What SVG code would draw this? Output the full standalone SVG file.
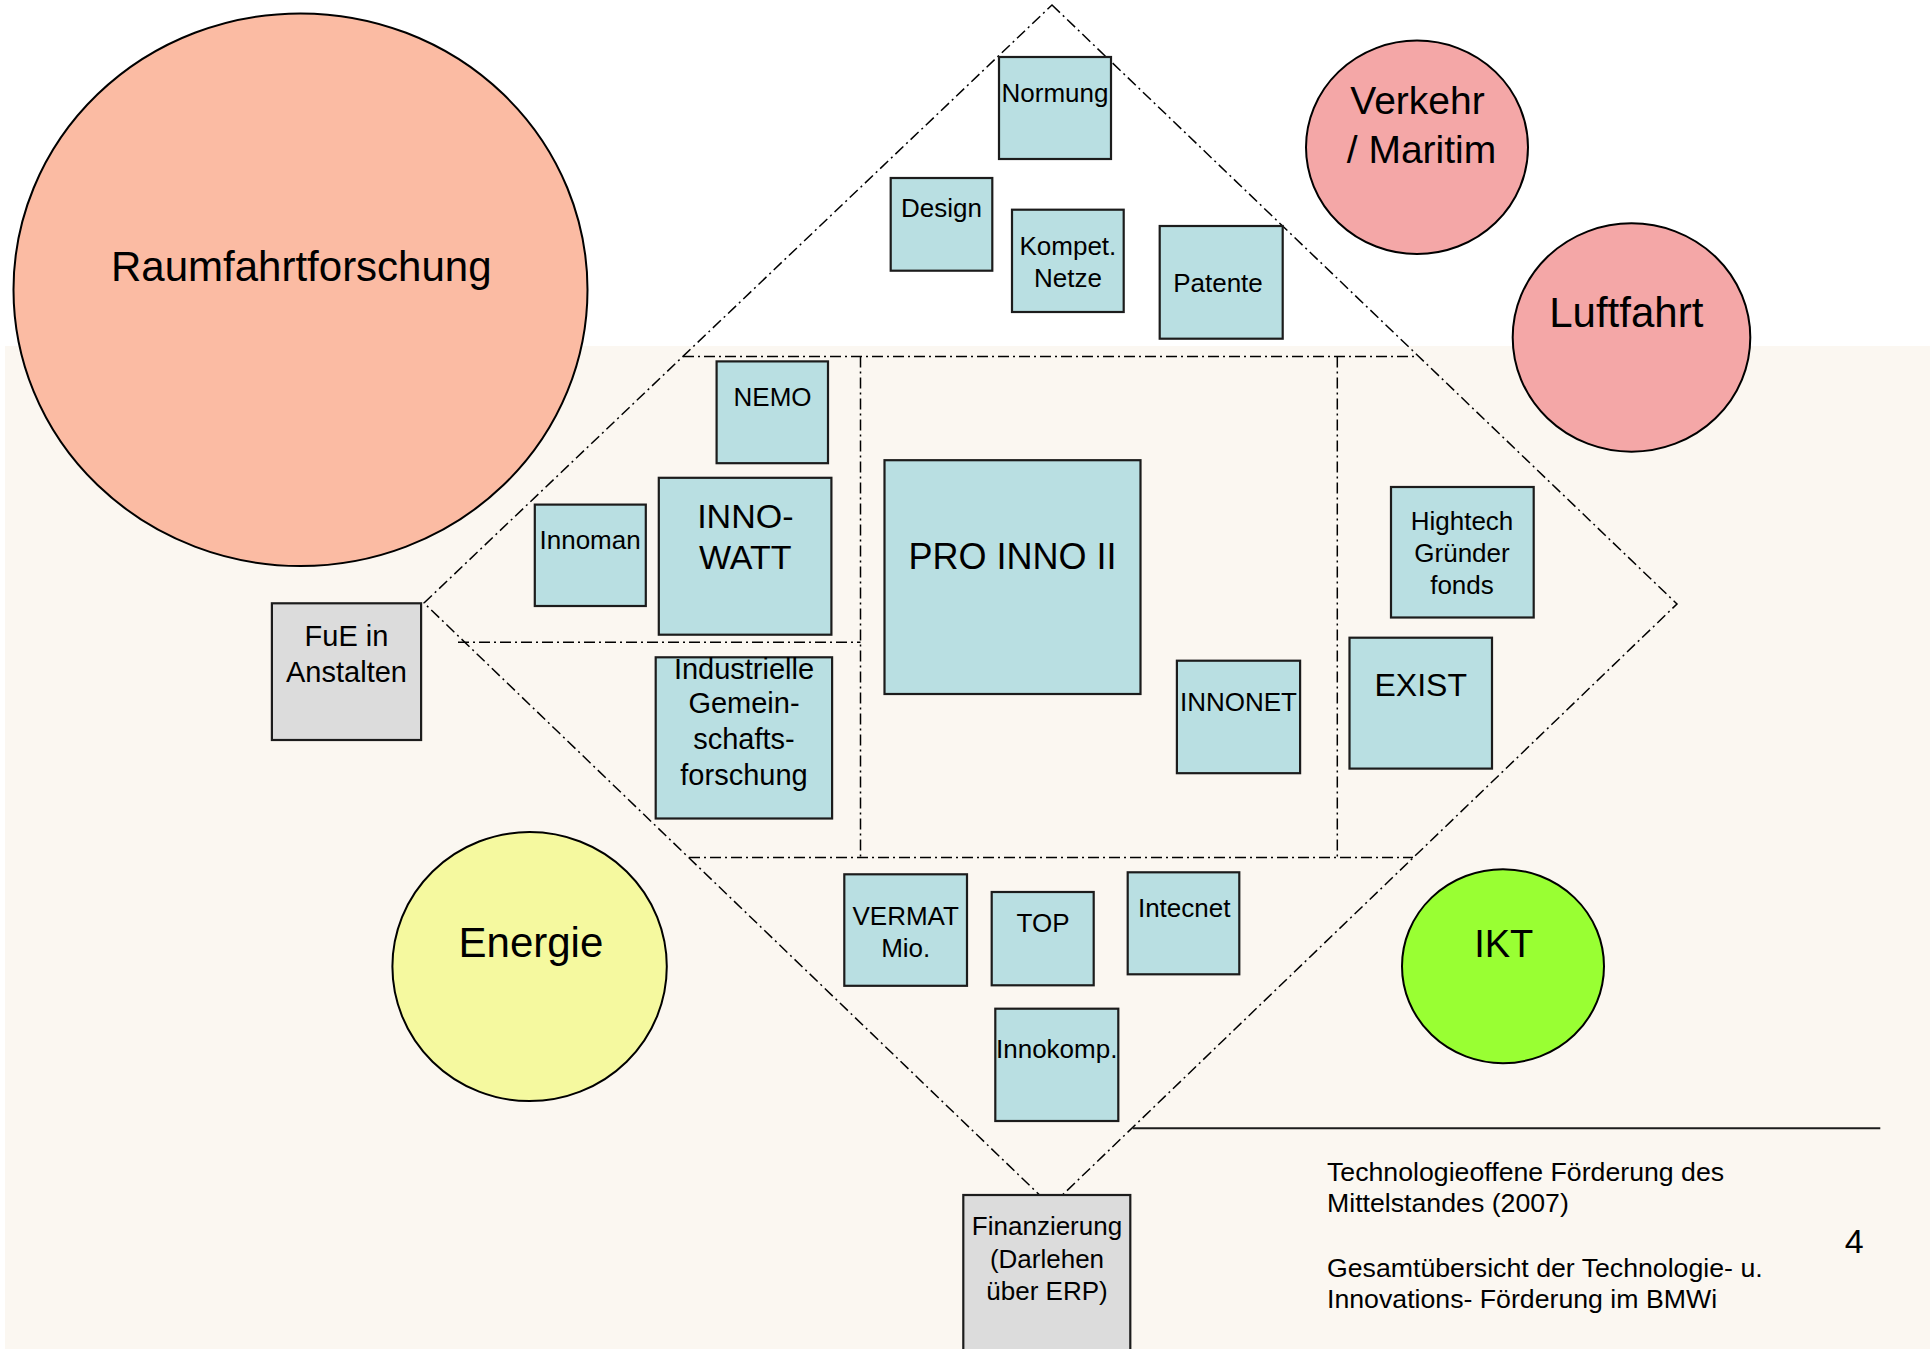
<svg xmlns="http://www.w3.org/2000/svg" width="1930" height="1349" viewBox="0 0 1930 1349">
<style>
text{font-family:"Liberation Sans",Arial,Helvetica,sans-serif;fill:#000;text-anchor:middle}
.box{fill:#B9DFE2;stroke:#1c1c1c;stroke-width:2.2}
.gray{fill:#DCDCDC;stroke:#1c1c1c;stroke-width:2.2}
.ell{stroke:#000;stroke-width:2}
.dd{fill:none;stroke:#000;stroke-width:1.5;stroke-dasharray:11 4 2 4}
.s26{font-size:26px}
.s29{font-size:29px}
.foot{font-size:26.7px;text-anchor:start}
</style>
<rect x="0" y="0" width="1930" height="1349" fill="#FFFFFF"/>
<rect id="background" x="5" y="346" width="1925" height="1003" fill="#FBF7F1"/>

<g id="raumfahrt"><ellipse class="ell" cx="300.5" cy="289.7" rx="287" ry="276.3" fill="#FBBBA3"/><text x="301.3" y="281.3" font-size="42">Raumfahrtforschung</text></g>
<g id="verkehr"><ellipse class="ell" cx="1417" cy="147.3" rx="111" ry="106.7" fill="#F4A7A7"/><text x="1417.5" y="114.3" font-size="39">Verkehr</text><text x="1421.5" y="162.7" font-size="39">/ Maritim</text></g>
<g id="luftfahrt"><ellipse class="ell" cx="1631.5" cy="337.5" rx="118.8" ry="114.2" fill="#F4A7A7"/><text x="1626.3" y="327.3" font-size="42">Luftfahrt</text></g>
<g id="energie"><ellipse class="ell" cx="529.6" cy="966.6" rx="137.2" ry="134.5" fill="#F5F99F"/><text x="530.9" y="957.1" font-size="42">Energie</text></g>
<g id="ikt"><ellipse class="ell" cx="1503" cy="966.2" rx="101" ry="97" fill="#99FF33"/><text x="1503.7" y="956.8" font-size="38">IKT</text></g>

<g id="connectors">
<polygon class="dd" points="1052,5 1677,604 1051,1206 424,603"/>
<line class="dd" x1="683" y1="356.5" x2="1418" y2="356.5"/>
<line class="dd" x1="689" y1="857.5" x2="1413" y2="857.5"/>
<line class="dd" x1="860.5" y1="356.5" x2="860.5" y2="857.5"/>
<line class="dd" x1="1337.3" y1="356.5" x2="1337.3" y2="857.5"/>
<line class="dd" x1="458" y1="642.3" x2="860.5" y2="642.3"/>
</g>

<g id="normung"><rect class="box" x="999" y="57" width="112" height="102"/><text class="s26" x="1055" y="101.7">Normung</text></g>
<g id="design"><rect class="box" x="890.7" y="178" width="101.6" height="92.7"/><text class="s26" x="941.5" y="217.3">Design</text></g>
<g id="kompet"><rect class="box" x="1012" y="209.7" width="111.7" height="102.3"/><text class="s26" x="1067.9" y="255">Kompet.</text><text class="s26" x="1067.9" y="286.7">Netze</text></g>
<g id="patente"><rect class="box" x="1159.7" y="226" width="123" height="112.7"/><text class="s26" x="1218" y="291.7">Patente</text></g>
<g id="nemo"><rect class="box" x="716.6" y="361.4" width="111.4" height="101.8"/><text class="s26" x="772.6" y="405.8">NEMO</text></g>
<g id="innoman"><rect class="box" x="534.8" y="504.6" width="111" height="101.4"/><text class="s26" x="590.1" y="548.6">Innoman</text></g>
<g id="innowatt"><rect class="box" x="658.8" y="477.8" width="172.6" height="156.9"/><text x="745.3" y="527.5" font-size="34">INNO-</text><text x="745.3" y="568.5" font-size="34">WATT</text></g>
<g id="proinno"><rect class="box" x="884.5" y="460.2" width="256" height="233.8"/><text x="1012.4" y="568.5" font-size="36">PRO INNO II</text></g>
<g id="innonet"><rect class="box" x="1176.9" y="660.7" width="123.2" height="112.5"/><text class="s26" x="1238.5" y="711.2">INNONET</text></g>
<g id="hightech"><rect class="box" x="1391" y="487" width="142.7" height="130.5"/><text class="s26" x="1462" y="530">Hightech</text><text class="s26" x="1462" y="562">Gründer</text><text class="s26" x="1462" y="594">fonds</text></g>
<g id="exist"><rect class="box" x="1349.5" y="637.7" width="142.5" height="130.9"/><text x="1420.7" y="696" font-size="32">EXIST</text></g>
<g id="fue"><rect class="gray" x="271.9" y="603.3" width="149.2" height="136.7"/><text class="s29" x="346.5" y="646.2">FuE in</text><text class="s29" x="346.5" y="681.8">Anstalten</text></g>
<g id="industrielle"><rect class="box" x="655.7" y="657.3" width="176.4" height="161.2"/><text class="s29" x="744" y="678.7">Industrielle</text><text class="s29" x="744" y="713.1">Gemein-</text><text class="s29" x="744" y="748.7">schafts-</text><text class="s29" x="744" y="785">forschung</text></g>
<g id="vermat"><rect class="box" x="844.3" y="874.3" width="122.7" height="111.5"/><text class="s26" x="905.7" y="925">VERMAT</text><text class="s26" x="905.7" y="957.1">Mio.</text></g>
<g id="top"><rect class="box" x="991.7" y="892" width="102" height="93.3"/><text class="s26" x="1043" y="931.7">TOP</text></g>
<g id="intecnet"><rect class="box" x="1127.7" y="872.3" width="111.6" height="102"/><text class="s26" x="1184.2" y="916.7">Intecnet</text></g>
<g id="innokomp"><rect class="box" x="995.3" y="1008.7" width="123" height="112.3"/><text class="s26" x="1056.7" y="1058.3">Innokomp.</text></g>
<g id="finanzierung"><rect class="gray" x="963.3" y="1195" width="167" height="170"/><text class="s26" x="1047" y="1235">Finanzierung</text><text class="s26" x="1047" y="1268.3">(Darlehen</text><text class="s26" x="1047" y="1300">über ERP)</text></g>

<g id="footer">
<line x1="1132.7" y1="1128.3" x2="1880.3" y2="1128.3" stroke="#1c1c1c" stroke-width="2"/>
<text class="foot" x="1327" y="1180.7">Technologieoffene Förderung des</text>
<text class="foot" x="1327" y="1212.3">Mittelstandes (2007)</text>
<text class="foot" x="1327" y="1276.6">Gesamtübersicht der Technologie- u.</text>
<text class="foot" x="1327" y="1308.4">Innovations- Förderung im BMWi</text>
<text x="1844.7" y="1253.4" font-size="34" style="text-anchor:start">4</text>
</g>
</svg>
